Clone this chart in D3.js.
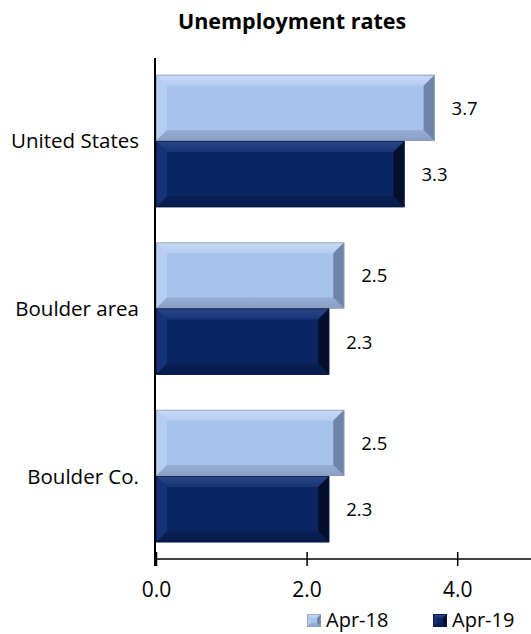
<!DOCTYPE html>
<html>
<head>
<meta charset="utf-8">
<script src="https://cdn.jsdelivr.net/npm/d3@7"></script>
<style>
  html, body { margin: 0; padding: 0; background: #fff; }
  svg { display: block; }
  text { font-family: "Open Sans", sans-serif; fill: #000; }
</style>
</head>
<body>
<svg id="chart" width="531" height="634"></svg>
<script>
const title = "Unemployment rates";
const categories = ["United States", "Boulder area", "Boulder Co."];
const seriesNames = ["Apr-18", "Apr-19"];
const apr18 = [3.7, 2.5, 2.5];
const apr19 = [3.3, 2.3, 2.3];
const tickValues = [0, 2, 4];

const seriesValues = [apr18, apr19];
const palette = {
  "Apr-18": { main: "#A7C2EC", top: "#C9DBF6", left: "#B6CCF0", bottom: "#8A9FC4", right: "#6F84A8", edge: "#8E9BB2" },
  "Apr-19": { main: "#0B2563", top: "#2A4889", left: "#173377", bottom: "#081B4A", right: "#040F2D", edge: "#06163F" }
};

const svg = d3.select("#chart");
const W = 531, H = 634;
const plot = { left: 155, right: 531, top: 58, bottom: 559 };

const x = d3.scaleLinear().domain([0, 5]).range([156, 156 + 5 * 75.3]);
const y = d3.scaleBand().domain(categories).range([plot.top, plot.bottom]).paddingInner(0.21).paddingOuter(0.1);
const ySub = d3.scaleBand().domain(seriesNames).range([0, y.bandwidth()]);

const defs = svg.append("defs");
function grad(id, c1, c2, vertical) {
  const lg = defs.append("linearGradient").attr("id", id)
    .attr("x1", 0).attr("y1", 0).attr("x2", vertical ? 0 : 1).attr("y2", vertical ? 1 : 0);
  lg.append("stop").attr("offset", "0%").attr("stop-color", c1);
  lg.append("stop").attr("offset", "100%").attr("stop-color", c2);
}
seriesNames.forEach((s, j) => {
  const c = palette[s];
  grad("top" + j, c.top, d3.interpolateRgb(c.top, c.main)(0.6), true);
  grad("bot" + j, d3.interpolateRgb(c.bottom, c.main)(0.4), c.bottom, true);
});

function bevel(g, x0, y0, w, h, c, b, j) {
  b = Math.min(b, w / 2, h / 2);
  const x1 = x0 + w, y1 = y0 + h;
  g.append("rect").attr("x", x0).attr("y", y0).attr("width", w).attr("height", h).attr("fill", c.main);
  const poly = (pts, fill) => g.append("polygon").attr("points", pts.map(p => p.join(",")).join(" ")).attr("fill", fill);
  poly([[x0, y0], [x1, y0], [x1 - b, y0 + b], [x0 + b, y0 + b]], `url(#top${j})`);
  poly([[x0, y0], [x0 + b, y0 + b], [x0 + b, y1 - b], [x0, y1]], c.left);
  poly([[x0, y1], [x1, y1], [x1 - b, y1 - b], [x0 + b, y1 - b]], `url(#bot${j})`);
  poly([[x1, y0], [x1 - b, y0 + b], [x1 - b, y1 - b], [x1, y1]], c.right);
  g.append("rect").attr("x", x0 + 0.5).attr("y", y0 + 0.5).attr("width", w - 1).attr("height", h - 1)
    .attr("fill", "none").attr("stroke", c.edge).attr("stroke-width", 1).attr("opacity", 0.7);
}

// Title
svg.append("text").attr("x", 292).attr("y", 29).attr("text-anchor", "middle")
  .attr("font-weight", "bold").attr("font-size", 21.5).text(title);

// Bars
const barsG = svg.append("g");
categories.forEach((cat, i) => {
  seriesNames.forEach((s, j) => {
    const v = seriesValues[j][i];
    const by = y(cat) + ySub(s);
    const bh = ySub.bandwidth();
    const g = barsG.append("g");
    bevel(g, x(0), by, x(v) - x(0), bh, palette[s], 11, j);
    svg.append("text").attr("x", x(v) + 17).attr("y", by + bh / 2 + 7)
      .attr("font-size", 18.5).text(d3.format(".1f")(v));
  });
});

// Category labels
categories.forEach(cat => {
  svg.append("text").attr("x", 139).attr("y", y(cat) + y.bandwidth() / 2 + 7.5)
    .attr("text-anchor", "end").attr("font-size", 20.5).text(cat);
});

// Axes
const xAxis = svg.append("g").attr("transform", `translate(0,${plot.bottom})`)
  .call(d3.axisBottom(x).tickValues(tickValues).tickFormat(d3.format(".1f")).tickSizeInner(7).tickSizeOuter(0).tickPadding(22));
xAxis.select(".domain").attr("stroke", "#000").attr("stroke-width", 1.5).attr("d", `M${plot.left},0H${W}`);
xAxis.selectAll(".tick line").attr("y1", -7).attr("y2", 7).attr("stroke", "#000").attr("stroke-width", 1.5);
xAxis.selectAll(".tick text").attr("font-size", 21).attr("font-family", "Open Sans, sans-serif").attr("fill", "#000");
xAxis.selectAll(".tick text").attr("dy", null).attr("y", 38);

svg.append("line").attr("x1", plot.left).attr("x2", plot.left).attr("y1", plot.top).attr("y2", plot.bottom + 7)
  .attr("stroke", "#000").attr("stroke-width", 2);

// Legend
const legend = svg.append("g");
const legendX = [307, 433];
seriesNames.forEach((s, j) => {
  const lg = legend.append("g");
  bevel(lg, legendX[j], 614, 14, 13, palette[s], 4, j);
  lg.append("text").attr("x", legendX[j] + 19).attr("y", 627).attr("font-size", 20).text(s);
});
</script>
</body>
</html>
